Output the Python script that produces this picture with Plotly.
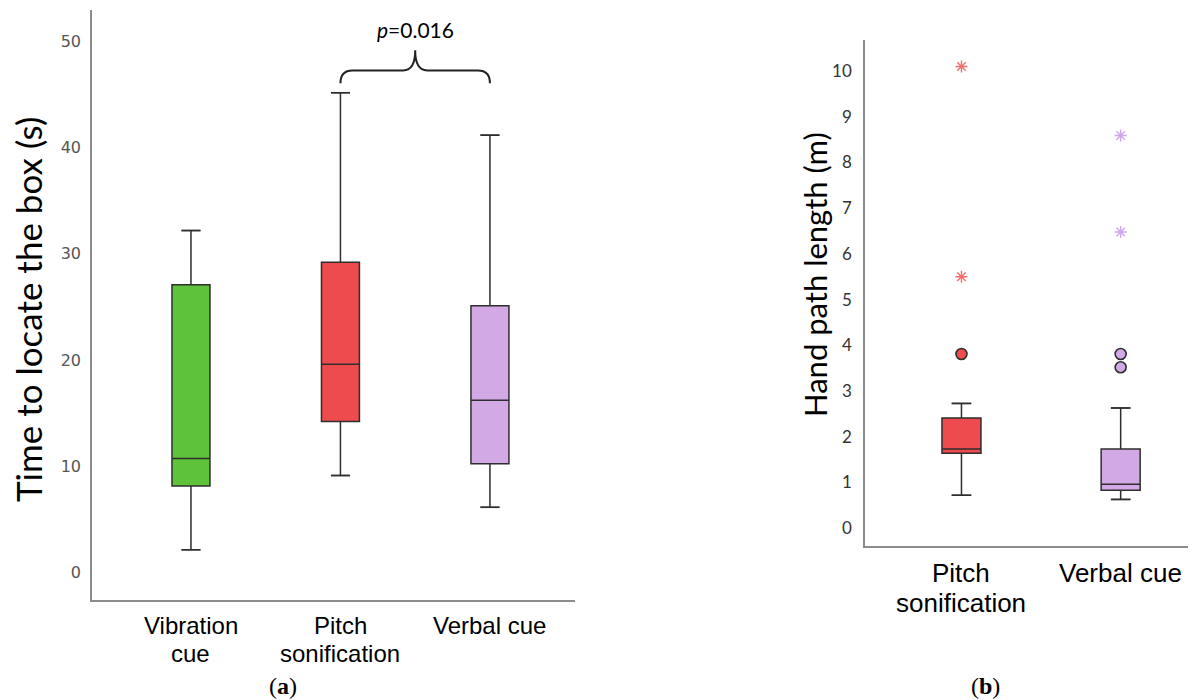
import plotly.graph_objects as go

W, H = 1198, 700

# ---------------- data: panel (a) ----------------
cats_a = ["Vibration<br>cue", "Pitch<br>sonification", "Verbal cue"]
a_lower = [2.1, 9.1, 6.1]
a_q1 = [8.1, 14.2, 10.2]
a_median = [10.7, 19.6, 16.2]
a_q3 = [27.1, 29.2, 25.1]
a_upper = [32.2, 45.2, 41.2]
a_ticks = [0, 10, 20, 30, 40, 50]
p_text = "<i>p</i>=0.016"

# ---------------- data: panel (b) ----------------
cats_b = ["Pitch<br>sonification", "Verbal cue"]
b_lower = [0.72, 0.63]
b_q1 = [1.64, 0.83]
b_median = [1.73, 0.96]
b_q3 = [2.41, 1.73]
b_upper = [2.73, 2.63]
b_out_circle = [[3.81], [3.81, 3.52]]
b_out_extreme = [[10.1, 5.5], [8.59, 6.48]]
b_ticks = list(range(0, 11))

# ---------------- styles ----------------
GREEN = "#5ec23b"
RED = "#ee4b4e"
PURPLE = "#d3a9e5"
STAR_RED = "#f26d6d"
STAR_PURPLE = "#cfa6ea"
EDGE = "#2e2e2e"
AXIS = "#8c8c8c"
fill_a = [GREEN, RED, PURPLE]
fill_b = [RED, PURPLE]
star_b = [STAR_RED, STAR_PURPLE]

BW_A = 0.254
BW_B = 0.245

fig = go.Figure()


def add_box(i, lo, q1, med, q3, up, fill, bw, xa, ya):
    fig.add_trace(go.Box(
        x=[i], q1=[q1], median=[med], q3=[q3], lowerfence=[lo], upperfence=[up],
        width=bw, fillcolor=fill, line=dict(color=EDGE, width=1.5),
        boxpoints=False, showlegend=False, xaxis=xa, yaxis=ya, hoverinfo="y"))
    c = bw / 4
    fig.add_trace(go.Scatter(
        x=[i - c, i + c, None, i - c, i + c], y=[up, up, None, lo, lo],
        mode="lines", line=dict(color=EDGE, width=1.5),
        showlegend=False, hoverinfo="skip", xaxis=xa, yaxis=ya))


for i in range(len(cats_a)):
    add_box(i, a_lower[i], a_q1[i], a_median[i], a_q3[i], a_upper[i],
            fill_a[i], BW_A, "x", "y")

for i in range(len(cats_b)):
    add_box(i, b_lower[i], b_q1[i], b_median[i], b_q3[i], b_upper[i],
            fill_b[i], BW_B, "x2", "y2")
    fig.add_trace(go.Scatter(
        x=[i] * len(b_out_circle[i]), y=b_out_circle[i], mode="markers",
        marker=dict(symbol="circle", size=11, color=fill_b[i],
                    line=dict(color=EDGE, width=1.6)),
        showlegend=False, xaxis="x2", yaxis="y2"))
    fig.add_trace(go.Scatter(
        x=[i] * len(b_out_extreme[i]), y=b_out_extreme[i], mode="markers",
        marker=dict(symbol="asterisk-open", size=10, color=star_b[i],
                    line=dict(color=star_b[i], width=1.4)),
        showlegend=False, xaxis="x2", yaxis="y2"))

# ---------------- axes ----------------
xa_dom = [92 / W, 575 / W]
ya_dom = [1 - 600 / H, 1 - 10 / H]
xb_dom = [865 / W, 1188 / W]
yb_dom = [1 - 546 / H, 1 - 40 / H]

common_x = dict(showline=True, linecolor=AXIS, linewidth=1.5, showgrid=False,
                zeroline=False, showticklabels=False, ticks="")
fig.update_layout(
    width=W, height=H, margin=dict(l=0, r=0, t=0, b=0),
    paper_bgcolor="white", plot_bgcolor="white", showlegend=False,
    xaxis=dict(domain=xa_dom, range=[-0.662, 2.569], anchor="y", **common_x),
    yaxis=dict(domain=ya_dom, range=[-2.64, 53.0], anchor="x",
               showline=True, linecolor=AXIS, linewidth=1.5, showgrid=False,
               zeroline=False, tickvals=a_ticks, ticks="outside",
               tickcolor="rgba(0,0,0,0)", ticklen=6,
               tickfont=dict(family="DejaVu Sans", size=16, color="#555555")),
    xaxis2=dict(domain=xb_dom, range=[-0.606, 1.423], anchor="y2", **common_x),
    yaxis2=dict(domain=yb_dom, range=[-0.39, 10.68], anchor="x2",
                showline=True, linecolor=AXIS, linewidth=1.5, showgrid=False,
                zeroline=False, tickvals=b_ticks, ticks="outside",
                tickcolor="rgba(0,0,0,0)", ticklen=8,
                tickfont=dict(family="Lato", size=17, color="#333333")),
)

ann = []
# axis titles
ann.append(dict(text="Time to locate the box (s)", x=28 / W, y=1 - 310 / H,
                xref="paper", yref="paper", textangle=-90, showarrow=False,
                xanchor="center", yanchor="middle",
                font=dict(family="Lato", size=35, color="black")))
ann.append(dict(text="Hand path length (m)", x=815 / W, y=1 - 274 / H,
                xref="paper", yref="paper", textangle=-90, showarrow=False,
                xanchor="center", yanchor="middle",
                font=dict(family="Lato", size=31, color="black")))

# category labels (one annotation per line)
for i, lab in enumerate(cats_a):
    for k, line in enumerate(lab.split("<br>")):
        ann.append(dict(text=line, x=i, xref="x", y=1 - (625 + 28 * k) / H,
                        yref="paper", showarrow=False, xanchor="center",
                        yanchor="middle",
                        font=dict(family="Liberation Sans", size=24, color="black")))
for i, lab in enumerate(cats_b):
    for k, line in enumerate(lab.split("<br>")):
        ann.append(dict(text=line, x=i, xref="x2", y=1 - (573 + 30 * k) / H,
                        yref="paper", showarrow=False, xanchor="center",
                        yanchor="middle",
                        font=dict(family="Liberation Sans", size=26, color="black")))

# panel letters
ann.append(dict(text="(<b>a</b>)", x=283 / W, y=1 - 686 / H, xref="paper", yref="paper",
                xanchor="center", yanchor="middle", showarrow=False,
                font=dict(family="Liberation Serif", size=24, color="black")))
ann.append(dict(text="(<b>b</b>)", x=985 / W, y=1 - 686 / H, xref="paper", yref="paper",
                xanchor="center", yanchor="middle", showarrow=False,
                font=dict(family="Liberation Serif", size=24, color="black")))

# significance label and brace between Pitch (1) and Verbal (2)
x1, x2 = 1, 2
xm = (x1 + x2) / 2
y_tip, y_bar, y_peak = 46.1, 47.3, 49.2
ann.append(dict(text=p_text, x=xm, xref="x", y=1 - 30 / H, yref="paper",
                showarrow=False, xanchor="center", yanchor="middle",
                font=dict(family="Lato", size=21, color="black")))
d = 0.08
path = (f"M {x1},{y_tip} Q {x1},{y_bar} {x1 + d},{y_bar} L {xm - d},{y_bar} "
        f"Q {xm},{y_bar} {xm},{y_peak} Q {xm},{y_bar} {xm + d},{y_bar} "
        f"L {x2 - d},{y_bar} Q {x2},{y_bar} {x2},{y_tip}")
fig.add_shape(type="path", path=path, xref="x", yref="y",
              line=dict(color="#222222", width=2))

fig.update_layout(annotations=ann)
fig.write_html("out.html",
               config={"displayModeBar": False},
               post_script="document.body.style.margin='0';document.body.style.overflow='hidden';")
